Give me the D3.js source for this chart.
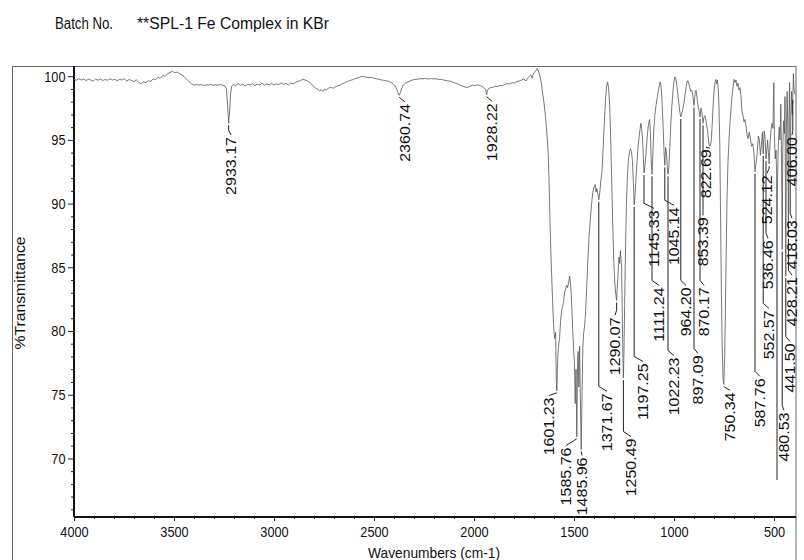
<!DOCTYPE html>
<html>
<head>
<meta charset="utf-8">
<script src="https://cdn.jsdelivr.net/npm/d3@7"></script>
<style>
  body { margin: 0; background: #fff; }
  text { font-family: "Liberation Sans", Arial, sans-serif; fill: #111; }
</style>
</head>
<body>
<div id="chart"></div>
<script>
// spectrum (cm-1 vs %T)
var wavenumber = [4000,3988,3976,3964,3952,3940,3928,3916,3904,3892,3880,3868,3856,3844,3832,3820,3808,3796,3784,3772,3760,3748,3736,3724,3712,3700,3688,3676,3664,3652,3640,3628,3616,3604,3592,3580,3568,3556,3544,3532,3520,3508,3496,3484,3472,3460,3448,3436,3424,3412,3400,3388,3376,3364,3352,3340,3328,3316,3304,3292,3280,3268,3256,3246,3238,3232,3227,3222,3217,3212,3204,3192,3180,3168,3156,3144,3132,3120,3108,3096,3084,3072,3060,3048,3036,3024,3012,3000,2988,2976,2964,2952,2940,2928,2916,2904,2892,2880,2868,2856,2844,2832,2820,2808,2796,2784,2772,2764,2756,2748,2740,2728,2716,2704,2692,2680,2668,2656,2644,2632,2620,2608,2596,2584,2572,2560,2548,2536,2524,2512,2500,2488,2476,2464,2452,2440,2428,2416,2404,2394,2386,2380,2374,2368,2362,2354,2344,2332,2320,2308,2296,2284,2272,2260,2248,2236,2224,2212,2200,2188,2176,2164,2152,2140,2128,2116,2104,2092,2080,2068,2056,2044,2032,2020,2008,1996,1984,1972,1960,1950,1942,1937,1932,1926,1918,1906,1894,1882,1870,1858,1846,1834,1822,1810,1798,1786,1774,1762,1750,1740,1732,1724,1716,1710,1704,1698,1690,1684,1678,1672,1665,1658,1650,1643,1637,1630,1625,1620,1615,1610,1605,1600,1596,1592,1589,1586,1583,1580,1576,1572,1567,1562,1557,1552,1547,1542,1537,1532,1527,1522,1517,1512,1507,1502,1498,1494,1490,1486,1482,1479,1476,1472,1468,1464,1460,1456,1452,1447,1442,1436,1430,1424,1418,1412,1406,1400,1394,1390,1386,1381,1376,1371,1366,1360,1354,1348,1342,1337,1332,1327,1322,1317,1312,1307,1302,1297,1292,1287,1283,1279,1275,1272,1268,1265,1262,1259,1256,1253,1250,1247,1243,1238,1233,1228,1223,1218,1213,1208,1203,1199,1195,1190,1185,1180,1175,1170,1166,1162,1158,1154,1150,1146,1142,1137,1132,1127,1122,1118,1114,1110,1106,1101,1096,1090,1084,1078,1073,1069,1064,1059,1054,1050,1046,1042,1038,1034,1030,1026,1021,1016,1011,1006,1001,996,991,986,981,976,971,966,961,956,951,946,941,936,931,926,921,916,911,906,900,895,890,885,880,875,870,865,860,855,850,845,840,835,830,825,820,815,810,805,800,795,791,787,783,779,775,771,767,763,759,755,751,747,743,739,735,730,724,718,712,706,700,695,690,685,680,675,670,665,660,655,650,645,640,635,630,624,618,612,606,600,595,591,587,583,578,573,568,563,558,554,549,545,540,536,532,528,524,520,515,510,505,501,498,494,490,487,485,483,479,474,470,466,462,459,456,452,448,445,441,438,434,431,428,425,422,419,416,412,409,406,403,400,396];
var transmittance = [99.75,99.68,99.8,99.7,99.78,99.66,99.76,99.7,99.62,99.78,99.68,99.8,99.66,99.74,99.68,99.8,99.7,99.76,99.64,99.75,99.7,99.8,99.62,99.74,99.66,99.58,99.72,99.5,99.42,99.55,99.5,99.65,99.6,99.78,99.74,99.9,99.85,100.05,100.0,100.2,100.3,100.38,100.28,100.32,100.2,100.1,99.95,99.75,99.55,99.4,99.3,99.35,99.3,99.34,99.28,99.32,99.3,99.36,99.28,99.32,99.3,99.34,99.28,99.25,99.0,97.8,96.3,97.2,98.6,99.2,99.35,99.25,99.42,99.28,99.38,99.22,99.36,99.3,99.42,99.26,99.38,99.3,99.45,99.28,99.4,99.32,99.44,99.3,99.4,99.34,99.48,99.36,99.42,99.32,99.46,99.4,99.52,99.6,99.66,99.75,99.7,99.62,99.5,99.3,99.1,99.0,98.85,98.95,98.8,99.0,98.9,99.05,99.12,99.05,99.18,99.25,99.3,99.42,99.5,99.58,99.66,99.72,99.8,99.85,99.92,100.0,99.96,99.92,99.88,99.9,99.84,99.8,99.76,99.7,99.68,99.64,99.6,99.52,99.4,99.22,98.95,98.7,98.5,98.7,99.0,99.3,99.45,99.55,99.62,99.7,99.74,99.76,99.8,99.78,99.82,99.8,99.78,99.82,99.78,99.8,99.74,99.76,99.7,99.66,99.62,99.6,99.52,99.45,99.38,99.3,99.22,99.15,99.12,99.2,99.3,99.26,99.32,99.28,99.2,99.1,98.95,98.55,98.9,99.05,99.1,99.12,99.22,99.18,99.28,99.25,99.36,99.42,99.38,99.5,99.46,99.58,99.62,99.7,99.78,99.62,99.85,99.98,100.1,99.85,100.15,100.3,100.45,100.6,100.4,100.1,99.6,98.8,97.9,96.9,95.8,94.3,92.0,88.6,85.8,83.6,81.5,79.9,79.4,79.9,76.5,75.3,77.0,78.3,79.0,79.5,80.8,81.6,82.0,82.3,83.0,83.3,83.6,83.4,83.8,84.3,83.7,82.3,80.2,78.6,77.6,74.3,77.0,71.7,78.0,78.4,75.6,78.8,74.5,70.7,74.8,78.6,79.8,80.4,81.5,83.6,85.8,87.6,88.8,90.0,90.9,91.3,91.5,90.9,91.2,90.8,90.3,90.9,91.8,92.5,94.4,96.5,98.3,99.2,99.55,99.1,97.8,95.4,92.2,88.8,85.9,84.0,83.0,82.4,83.6,84.6,85.8,85.3,86.3,85.6,85.1,82.0,78.5,76.3,78.5,82.0,86.0,89.8,92.2,93.4,94.0,94.3,94.1,93.4,91.6,89.9,90.6,92.0,93.3,94.4,95.2,95.8,96.3,95.9,95.2,94.0,92.4,92.9,93.6,94.6,95.6,96.3,96.6,95.6,93.4,92.3,93.8,95.8,96.9,97.7,98.3,98.9,99.3,99.55,99.1,97.8,95.9,94.1,93.0,94.4,94.1,93.0,92.3,92.8,94.4,96.2,97.6,98.6,99.5,99.95,99.8,99.3,98.6,97.9,97.2,96.8,97.1,97.4,97.8,98.4,99.0,99.45,99.65,99.4,99.1,98.8,98.9,98.5,97.7,98.6,98.9,98.3,97.7,97.3,96.8,97.5,97.1,96.3,96.8,96.9,96.5,96.0,95.4,94.6,94.5,94.8,95.9,97.5,98.8,99.5,99.75,99.4,99.7,99.1,97.6,94.5,88.8,83.0,78.8,76.3,75.8,77.8,81.5,86.3,90.4,93.3,95.3,96.8,98.0,99.0,99.75,99.5,99.7,99.2,99.45,98.9,99.1,98.4,97.2,96.9,96.4,96.6,96.1,95.4,95.1,95.6,95.1,94.5,94.7,93.9,92.5,93.0,93.5,94.2,95.3,95.0,93.8,94.6,95.6,93.9,95.7,95.2,93.5,94.2,95.0,94.0,93.1,94.6,95.8,96.3,95.9,99.5,95.3,93.5,94.2,92.4,68.3,91.0,94.5,96.0,95.0,97.8,93.0,86.4,94.5,96.5,95.5,98.4,84.3,96.0,98.8,95.5,87.4,97.0,99.5,92.0,96.5,98.8,97.0,98.3,100.2,99.0,98.6];

// peak picks: label text, where the leader starts (cm-1, %T), where the label text sits (cm-1, %T of its top end)
var peakLabels = ["2933.17","2360.74","1928.22","1601.23","1585.76","1485.96","1371.67","1290.07","1250.49","1197.25","1145.33","1111.24","1045.14","1022.23","964.20","897.09","870.17","853.39","822.69","750.34","587.76","552.57","536.46","524.12","480.53","441.50","428.21","418.03","406.00"];
var peakAt    = [3227,2374,1937,1586,1486,1464,1376,1287,1253,1199,1150,1110,1046,1030,966,900,870,855,820,751,595,554,540,524,459,441,428,419,406];
var peakDepth = [96.3,98.5,98.55,75.3,71.7,70.7,90.3,82.4,76.3,89.9,92.4,92.3,93.0,92.3,96.8,97.7,96.8,96.3,94.5,75.8,92.5,93.9,93.5,93.1,86.4,84.3,87.4,92.0,98.3];
var labelAt   = [3215,2345,1910,1625,1540,1460,1335,1295,1215,1155,1100,1075,1000,1000,940,880,850,855,840,720,570,525,530,535,450,420,410,410,410];
var labelTop  = [95.3,97.9,97.95,74.86,70.93,70.15,75.18,81.15,71.64,77.53,89.55,83.5,89.79,78.0,83.5,78.16,83.5,89.0,94.34,75.26,76.36,81.7,87.2,92.3,73.68,79.1,84.3,88.77,95.29];

var xTicks = [4000,3500,3000,2500,2000,1500,1000,500];
var yTicks = [70,75,80,85,90,95,100];

const W = 804, H = 560;
const mLeft = 74, mRight = 796, mTop = 66, mBottom = 517;

const svg = d3.select("#chart").append("svg")
    .attr("width", W)
    .attr("height", H);

const x = d3.scaleLinear().domain([4000, 390]).range([mLeft, mRight]);
const y = d3.scaleLinear().domain([65.4, 100.8]).range([mBottom, mTop]);

// outer frame of the printout
svg.append("rect")
    .attr("x", 12.5).attr("y", mTop + 0.5)
    .attr("width", mRight - 12.5).attr("height", H)
    .attr("fill", "none")
    .attr("stroke", "#666")
    .attr("stroke-width", 1);

// title line
svg.append("text")
    .attr("x", 55).attr("y", 29)
    .attr("textLength", 58).attr("lengthAdjust", "spacingAndGlyphs")
    .style("font-size", "16px")
    .text("Batch No.");
svg.append("text")
    .attr("x", 137).attr("y", 29)
    .attr("textLength", 192).attr("lengthAdjust", "spacingAndGlyphs")
    .style("font-size", "17px")
    .text("**SPL-1 Fe Complex in KBr");

// axes
const yAxis = svg.append("g")
    .attr("transform", "translate(" + mLeft + ",0)")
    .call(d3.axisLeft(y).tickValues(yTicks).tickSize(6).tickPadding(4).tickFormat(d3.format("d")));
const yMinor = svg.append("g")
    .attr("transform", "translate(" + mLeft + ",0)")
    .call(d3.axisLeft(y).tickValues(d3.range(66, 101).filter(function(v){ return v % 5 != 0; }))
        .tickSize(3).tickFormat(""));
const xAxis = svg.append("g")
    .attr("transform", "translate(0," + mBottom + ")")
    .call(d3.axisBottom(x).tickValues(xTicks).tickSize(4).tickPadding(5).tickFormat(d3.format("d")));
const xMinor = svg.append("g")
    .attr("transform", "translate(0," + mBottom + ")")
    .call(d3.axisBottom(x).tickValues(d3.range(500, 4000, 100).filter(function(v){ return v % 500 != 0; }))
        .tickSize(2).tickFormat(""));

[yAxis, yMinor, xAxis, xMinor].forEach(function(g){
  g.select(".domain").remove();
  g.selectAll("line").attr("stroke", "#222");
});
yAxis.selectAll("text").style("font-size", "15px").style("font-family", "Liberation Sans, Arial")
    .attr("transform", "scale(0.85,1)");
xAxis.selectAll("text").style("font-size", "15px").style("font-family", "Liberation Sans, Arial")
    .attr("transform", "scale(0.85,1)");

svg.append("line")
    .attr("x1", mLeft).attr("x2", mLeft).attr("y1", mTop).attr("y2", mBottom)
    .attr("stroke", "#111").attr("stroke-width", 2);
svg.append("line")
    .attr("x1", mLeft).attr("x2", mRight).attr("y1", mBottom).attr("y2", mBottom)
    .attr("stroke", "#111").attr("stroke-width", 2);

// axis titles
svg.append("text")
    .attr("x", 434).attr("y", 558)
    .attr("text-anchor", "middle")
    .attr("textLength", 132).attr("lengthAdjust", "spacingAndGlyphs")
    .style("font-size", "15px")
    .text("Wavenumbers (cm-1)");
svg.append("text")
    .attr("transform", "translate(25,293) rotate(-90)")
    .attr("text-anchor", "middle")
    .attr("textLength", 113).attr("lengthAdjust", "spacingAndGlyphs")
    .style("font-size", "15px")
    .text("%Transmittance");

// spectrum trace
var spectrum = wavenumber.map(function(w, i){ return [w, transmittance[i]]; });
var line = d3.line()
    .x(function(d){ return x(d[0]); })
    .y(function(d){ return y(d[1]); });
svg.append("path")
    .datum(spectrum)
    .attr("d", line)
    .attr("fill", "none")
    .attr("stroke", "#555")
    .attr("stroke-width", 0.8);

// peak labels with leader lines
var peaks = peakLabels.map(function(t, i){
  return { text: t, px: peakAt[i], pv: peakDepth[i], lx: labelAt[i], lt: labelTop[i] };
});

svg.selectAll(".leader")
    .data(peaks)
    .enter()
    .append("path")
    .attr("class", "leader")
    .attr("d", function(d){
      var sx = x(d.px), sy = y(d.pv) + 2;
      var tx = x(d.lx), ty = y(d.lt);
      if (ty - sy > 8) return "M" + sx + "," + sy + "V" + (ty - 6) + "L" + tx + "," + (ty - 1);
      return "M" + sx + "," + sy + "L" + tx + "," + (ty - 1);
    })
    .attr("fill", "none")
    .attr("stroke", "#222")
    .attr("stroke-width", 1);

svg.selectAll(".peak")
    .data(peaks)
    .enter()
    .append("text")
    .attr("class", "peak")
    .attr("transform", function(d){
      return "translate(" + x(d.lx) + "," + (y(d.lt) + 1) + ") scale(0.9,1) rotate(-90)";
    })
    .attr("text-anchor", "end")
    .attr("dominant-baseline", "central")
    .style("font-size", "16px")
    .text(function(d){ return d.text; });
</script>
</body>
</html>
